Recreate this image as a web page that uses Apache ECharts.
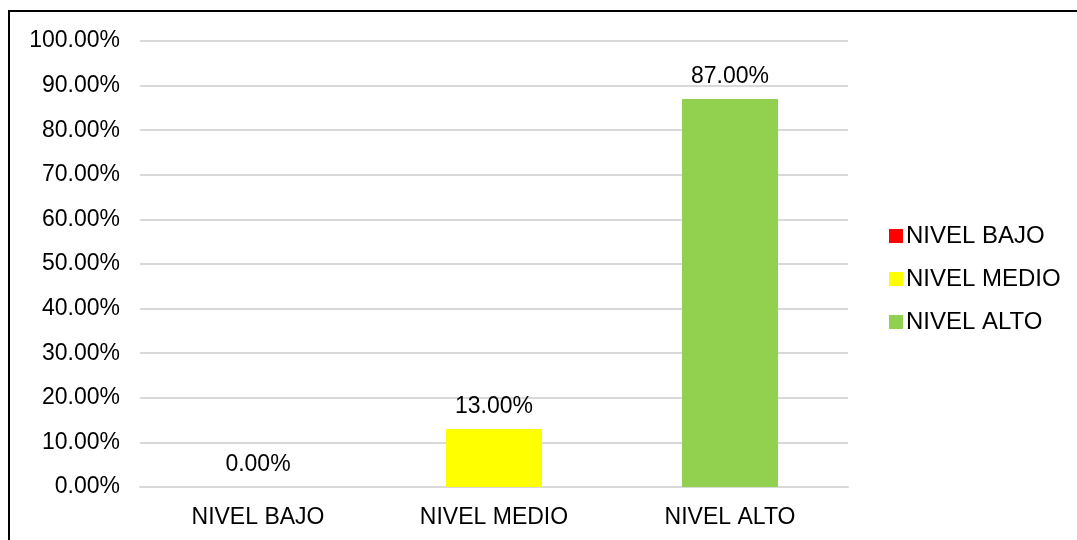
<!DOCTYPE html>
<html>
<head>
<meta charset="utf-8">
<script src="https://cdn.jsdelivr.net/npm/echarts@6/dist/echarts.min.js"></script>
<style>
  html, body { margin: 0; padding: 0; background: #fff; }
  #frame { position: absolute; left: 8px; top: 10px; width: 1080px; height: 540px; border-left: 2px solid #000; border-top: 2px solid #000; }
  #chart { position: absolute; left: 0; top: 0; width: 1077px; height: 540px; }
</style>
</head>
<body>
<div id="frame"></div>
<div id="chart"></div>
<script>
const categories = ['NIVEL BAJO', 'NIVEL MEDIO', 'NIVEL ALTO']
const seriesNames = ['NIVEL BAJO', 'NIVEL MEDIO', 'NIVEL ALTO']
const values = [0, 13, 87]
const colors = ['#ff0000', '#ffff00', '#92d050']

const font = 'Liberation Sans, Arial, sans-serif'

const series = seriesNames.map((name, i) => ({
  name,
  type: 'bar',
  stack: 'all',
  barWidth: 96,
  data: categories.map((c, j) => (j === i ? values[i] : '-')),
  itemStyle: { color: colors[i] },
  label: {
    show: true,
    position: 'top',
    distance: 11,
    color: '#000',
    fontSize: 23,
    fontFamily: font,
    formatter: (p) => p.value.toFixed(2) + '%',
  },
}))

const chart = echarts.init(document.getElementById('chart'))
chart.setOption({
  animation: false,
  grid: { left: 140, right: 229, top: 41, bottom: 53 },
  legend: {
    orient: 'vertical',
    left: 889,
    top: 224,
    padding: 0,
    itemWidth: 14,
    itemHeight: 14,
    itemGap: 19,
    icon: 'rect',
    textStyle: { color: '#000', fontSize: 24, fontFamily: font, padding: [0, 0, 0, -2] },
    data: seriesNames,
  },
  xAxis: {
    type: 'category',
    data: categories,
    axisTick: { show: false },
    axisLine: { lineStyle: { color: '#d9d9d9', width: 2 } },
    axisLabel: { color: '#000', fontSize: 23, fontFamily: font, margin: 19 },
  },
  yAxis: {
    type: 'value',
    min: 0,
    max: 100,
    interval: 10,
    axisLabel: {
      color: '#000',
      fontSize: 23,
      fontFamily: font,
      margin: 20,
      formatter: (v) => v.toFixed(2) + '%',
    },
    splitLine: { lineStyle: { color: '#d9d9d9', width: 2 } },
  },
  series,
})
</script>
</body>
</html>
